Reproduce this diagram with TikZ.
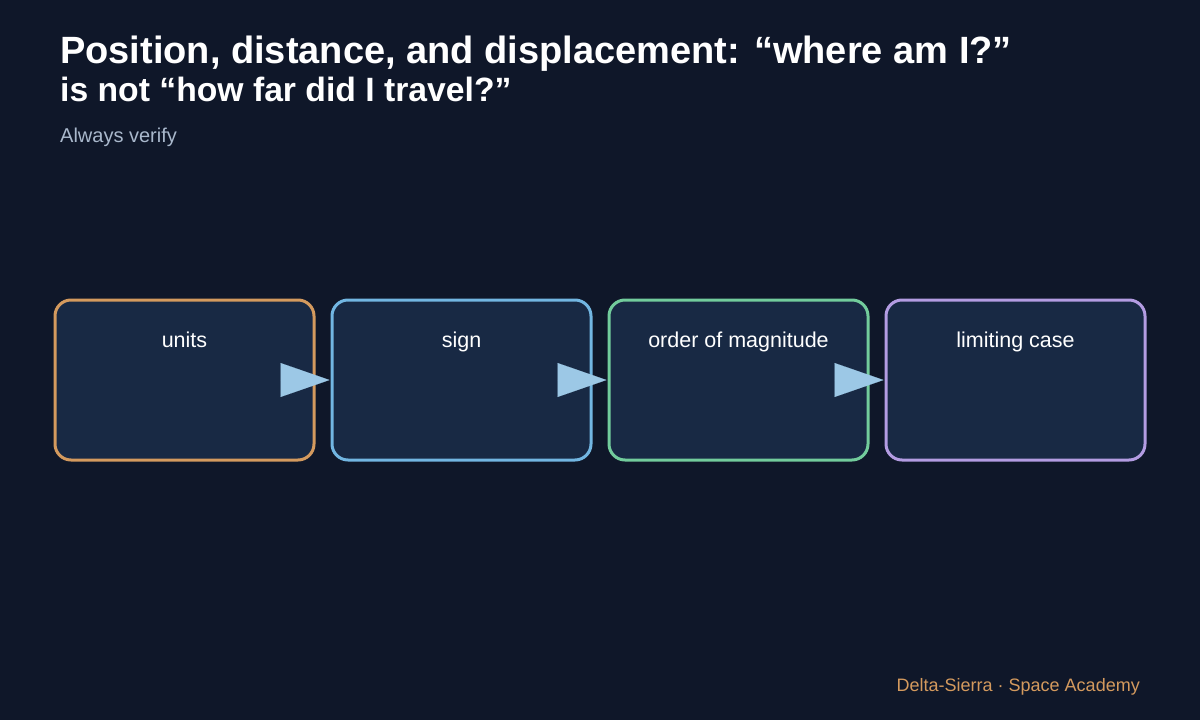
\documentclass[tikz,border=0pt]{standalone}
\usepackage{fontspec}
\setmainfont{Liberation Sans}
\usetikzlibrary{arrows.meta}
\definecolor{bg}{HTML}{0F1729}
\definecolor{boxfill}{HTML}{182944}
\definecolor{cOrange}{HTML}{D49A5E}
\definecolor{cBlue}{HTML}{72B6E2}
\definecolor{cGreen}{HTML}{72CC9C}
\definecolor{cPurple}{HTML}{B39CE2}
\definecolor{arrowc}{HTML}{9CC8E6}
\definecolor{subc}{HTML}{A9B8CC}
\definecolor{footc}{HTML}{D49A5E}
\tikzset{
  stepbox/.style={draw, line width=3pt, fill=boxfill, rounded corners=16pt, minimum width=259pt, minimum height=160pt, inner sep=0pt},
  steplabel/.style={text=white, font=\fontsize{21.5pt}{24pt}\selectfont, anchor=base},
  flow/.style={draw=none, fill=arrowc, -{Triangle[length=49pt,width=34pt,fill=arrowc]}},
}
\begin{document}
\begin{tikzpicture}[x=1pt,y=-1pt]
\useasboundingbox (0,0) rectangle (1200,720);
\fill[bg] (0,0) rectangle (1200,720);
\node[anchor=base west, text=white, font=\bfseries\fontsize{38pt}{42pt}\selectfont, inner sep=0pt] (t1) at (60,63) {Position, distance, and displacement: “where am I?”};
\node[anchor=base west, text=white, font=\bfseries\fontsize{33.7pt}{38pt}\selectfont, inner sep=0pt] (t2) at (60,101) {is not “how far did I travel?”};
\node[anchor=base west, text=subc, font=\fontsize{20pt}{24pt}\selectfont, inner sep=0pt] (sub) at (60,142) {Always verify};
\node[stepbox, draw=cOrange] (b1) at (184.5,380) {};
\node[stepbox, draw=cBlue] (b2) at (461.5,380) {};
\node[stepbox, draw=cGreen] (b3) at (738.5,380) {};
\node[stepbox, draw=cPurple] (b4) at (1015.5,380) {};
\node[steplabel] (l1) at (184.5,347) {units};
\node[steplabel] (l2) at (461.5,347) {sign};
\node[steplabel] (l3) at (738.5,347) {order of magnitude};
\node[steplabel] (l4) at (1015.5,347) {limiting case};
\draw[flow, draw=arrowc, line width=0.1pt] (b1.east) -- ([xshift=-1pt]b2.west);
\draw[flow, draw=arrowc, line width=0.1pt] (b2.east) -- ([xshift=-1pt]b3.west);
\draw[flow, draw=arrowc, line width=0.1pt] (b3.east) -- ([xshift=-1pt]b4.west);
\node[anchor=base east, text=footc, font=\fontsize{18pt}{22pt}\selectfont, inner sep=0pt] (foot) at (1140,691) {Delta-Sierra · Space Academy};
\end{tikzpicture}
\end{document}
